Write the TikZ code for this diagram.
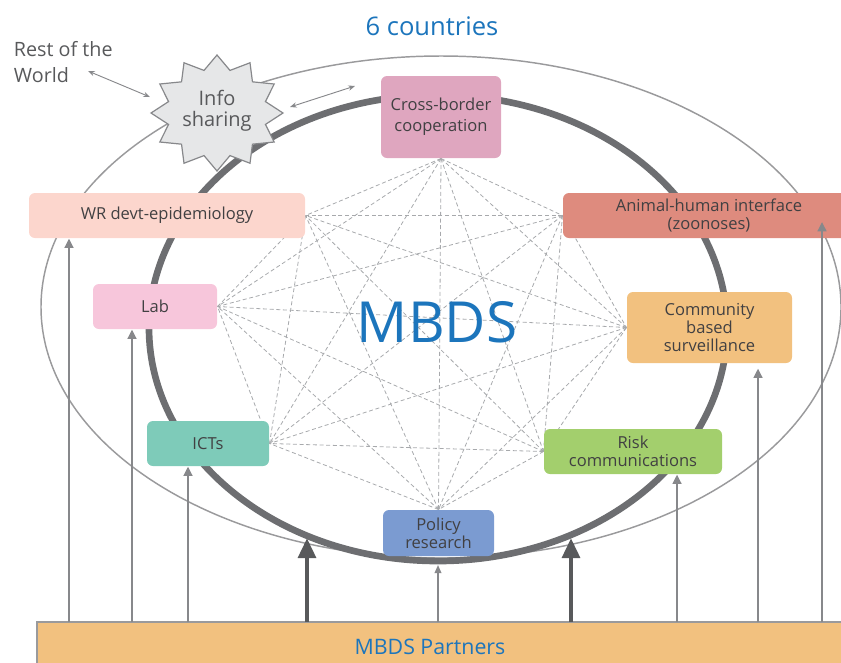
\documentclass[tikz,border=0pt]{standalone}
\usepackage{fontspec}
\setmainfont{Open Sans}
\usetikzlibrary{calc,arrows.meta,backgrounds}

\definecolor{mbdsblue}{HTML}{1C75BC}
\definecolor{txtgray}{HTML}{414042}
\definecolor{infogray}{HTML}{58595B}
\definecolor{thingray}{HTML}{9A9A9C}
\definecolor{ringgray}{HTML}{6D6E71}
\definecolor{linkgray}{HTML}{A7A9AC}
\definecolor{arrgray}{HTML}{87888B}
\definecolor{darkarr}{HTML}{58595B}
\definecolor{starfill}{HTML}{E6E7E8}
\definecolor{cbpink}{HTML}{DFA6BF}
\definecolor{wrpeach}{HTML}{FCD6CD}
\definecolor{ahred}{HTML}{DE8B7E}
\definecolor{labpink}{HTML}{F7C6DB}
\definecolor{csorange}{HTML}{F2C17F}
\definecolor{ictgreen}{HTML}{7ECBB9}
\definecolor{rcgreen}{HTML}{A3CF6D}
\definecolor{prblue}{HTML}{7B9BD1}

\begin{document}
\begin{tikzpicture}[x=0.75pt,y=-0.75pt,thick] %% 1 unit = 1 px of the sketch
		\tikzstyle{box}=[rounded corners=4.5pt,text=txtgray,align=center,inner sep=0pt,font=\fontsize{12.4}{13.6}\selectfont]
		\tikzstyle{up}=[draw=arrgray,line width=1.8pt,-{Triangle[length=7pt,width=6.5pt]}]
		\tikzstyle{upthin}=[draw=arrgray,line width=1pt,-{Triangle[length=6pt,width=5pt]}]
		\tikzstyle{bigup}=[draw=darkarr,line width=3.6pt,-{Triangle[length=15pt,width=13pt]}]
		\tikzstyle{link}=[draw=linkgray,line width=0.6pt,dash pattern=on 3pt off 2pt]
		\tikzstyle{twoway}=[draw=arrgray,line width=0.7pt,{Stealth[length=5pt,width=4pt]}-{Stealth[length=5pt,width=4pt]}]
		\useasboundingbox (0,0) rectangle (841,662);
		%% titles
		\node[text=mbdsblue,font=\fontsize{19.2}{21}\selectfont] (title) at (432,26) {6 countries};
		\node[text=mbdsblue,font=\fontsize{42.5}{46}\selectfont] (mbds) at (437,322) {MBDS};
		%% info sharing star
		\draw[draw=arrgray,fill=starfill,line width=0.9pt] plot[samples at={0,...,23},variable=\k]
			({217+66*(isodd(\k)?0.76:1)*cos(90+15*\k)},{113-58*(isodd(\k)?0.76:1)*sin(90+15*\k)}) -- cycle;
		\node[text=infogray,align=center,font=\fontsize{15}{16}\selectfont] (info) at (217,111) {Info\\sharing};
		\node[text=infogray,anchor=west,align=left,font=\fontsize{14.8}{20}\selectfont] (rest) at (9,62) {Rest of the\\World};
		\coordinate (w1) at (88,71);
		\coordinate (w2) at (150,97);
		\coordinate (w3) at (290,107);
		\coordinate (w4) at (355,86);
		\draw[twoway] (w1) -- (w2);
		\draw[twoway] (w3) -- (w4);
		%% activity boxes
		\node[box,fill=cbpink,minimum width=90pt,minimum height=61.5pt,font=\fontsize{12.4}{15.5}\selectfont] (CB) at (441,117) {Cross-border\\cooperation};
		\node[box,fill=wrpeach,minimum width=207pt,minimum height=33.75pt] (WR) at (167,215.5) {WR devt-epidemiology};
		\node[box,fill=ahred,minimum width=219pt,minimum height=33.75pt] (AH) at (709,215.5) {Animal-human interface\\(zoonoses)};
		\node[box,fill=labpink,minimum width=93pt,minimum height=33.75pt] (Lab) at (155,306.5) {Lab};
		\node[box,fill=csorange,minimum width=123.75pt,minimum height=53.25pt] (CS) at (709.5,327.5) {Community\\based\\surveillance};
		\node[box,fill=ictgreen,minimum width=91.5pt,minimum height=33.75pt] (ICT) at (208,443.5) {ICTs};
		\node[box,fill=rcgreen,minimum width=133.5pt,minimum height=33.75pt] (RC) at (633,451.5) {Risk\\communications};
		\node[box,fill=prblue,minimum width=83.25pt,minimum height=34.5pt] (PR) at (438.5,533) {Policy\\research};
		%% rings and links behind the boxes
		\begin{scope}[on background layer]
			\draw[thingray,line width=1.1pt] (441,307) ellipse [x radius=400,y radius=251];
			\draw[ringgray,line width=5pt] (438,328) ellipse [x radius=289,y radius=233];
			\foreach \a [count=\i] in {CB.south,AH.west,CS.west,RC.west,PR.north,ICT.east,Lab.east,WR.east}
				\foreach \b [count=\j] in {CB.south,AH.west,CS.west,RC.west,PR.north,ICT.east,Lab.east,WR.east}
					{\ifnum\j>\i \draw[link] (\a) -- (\b); \fi}
		\end{scope}
		%% partners bar
		\draw[draw=thingray,fill=csorange,line width=0.8pt] (37,622) rectangle (880,700);
		\node[text=mbdsblue,font=\fontsize{16}{19}\selectfont] (partners) at (430,647) {MBDS Partners};
		%% support arrows
		\foreach \x [count=\n] in {69,132,188,307,438,571,677,758,822}
			\coordinate (b\n) at (\x,622);
		\coordinate (t4) at (307,538);
		\coordinate (t5) at (438,565);
		\coordinate (t6) at (571,538);
		\coordinate (t9) at (822,222);
		\draw[up] (b1) -- (b1 |- WR.south);
		\draw[up] (b2) -- (b2 |- Lab.south);
		\draw[up] (b3) -- (b3 |- ICT.south);
		\draw[bigup] (b4) -- (t4);
		\draw[upthin] (b5) -- (t5);
		\draw[bigup] (b6) -- (t6);
		\draw[up] (b7) -- (b7 |- RC.south);
		\draw[up] (b8) -- ($(b8 |- CS.south)+(0,5)$);
		\draw[up] (b9) -- (t9);
	\end{tikzpicture}
\end{document}
